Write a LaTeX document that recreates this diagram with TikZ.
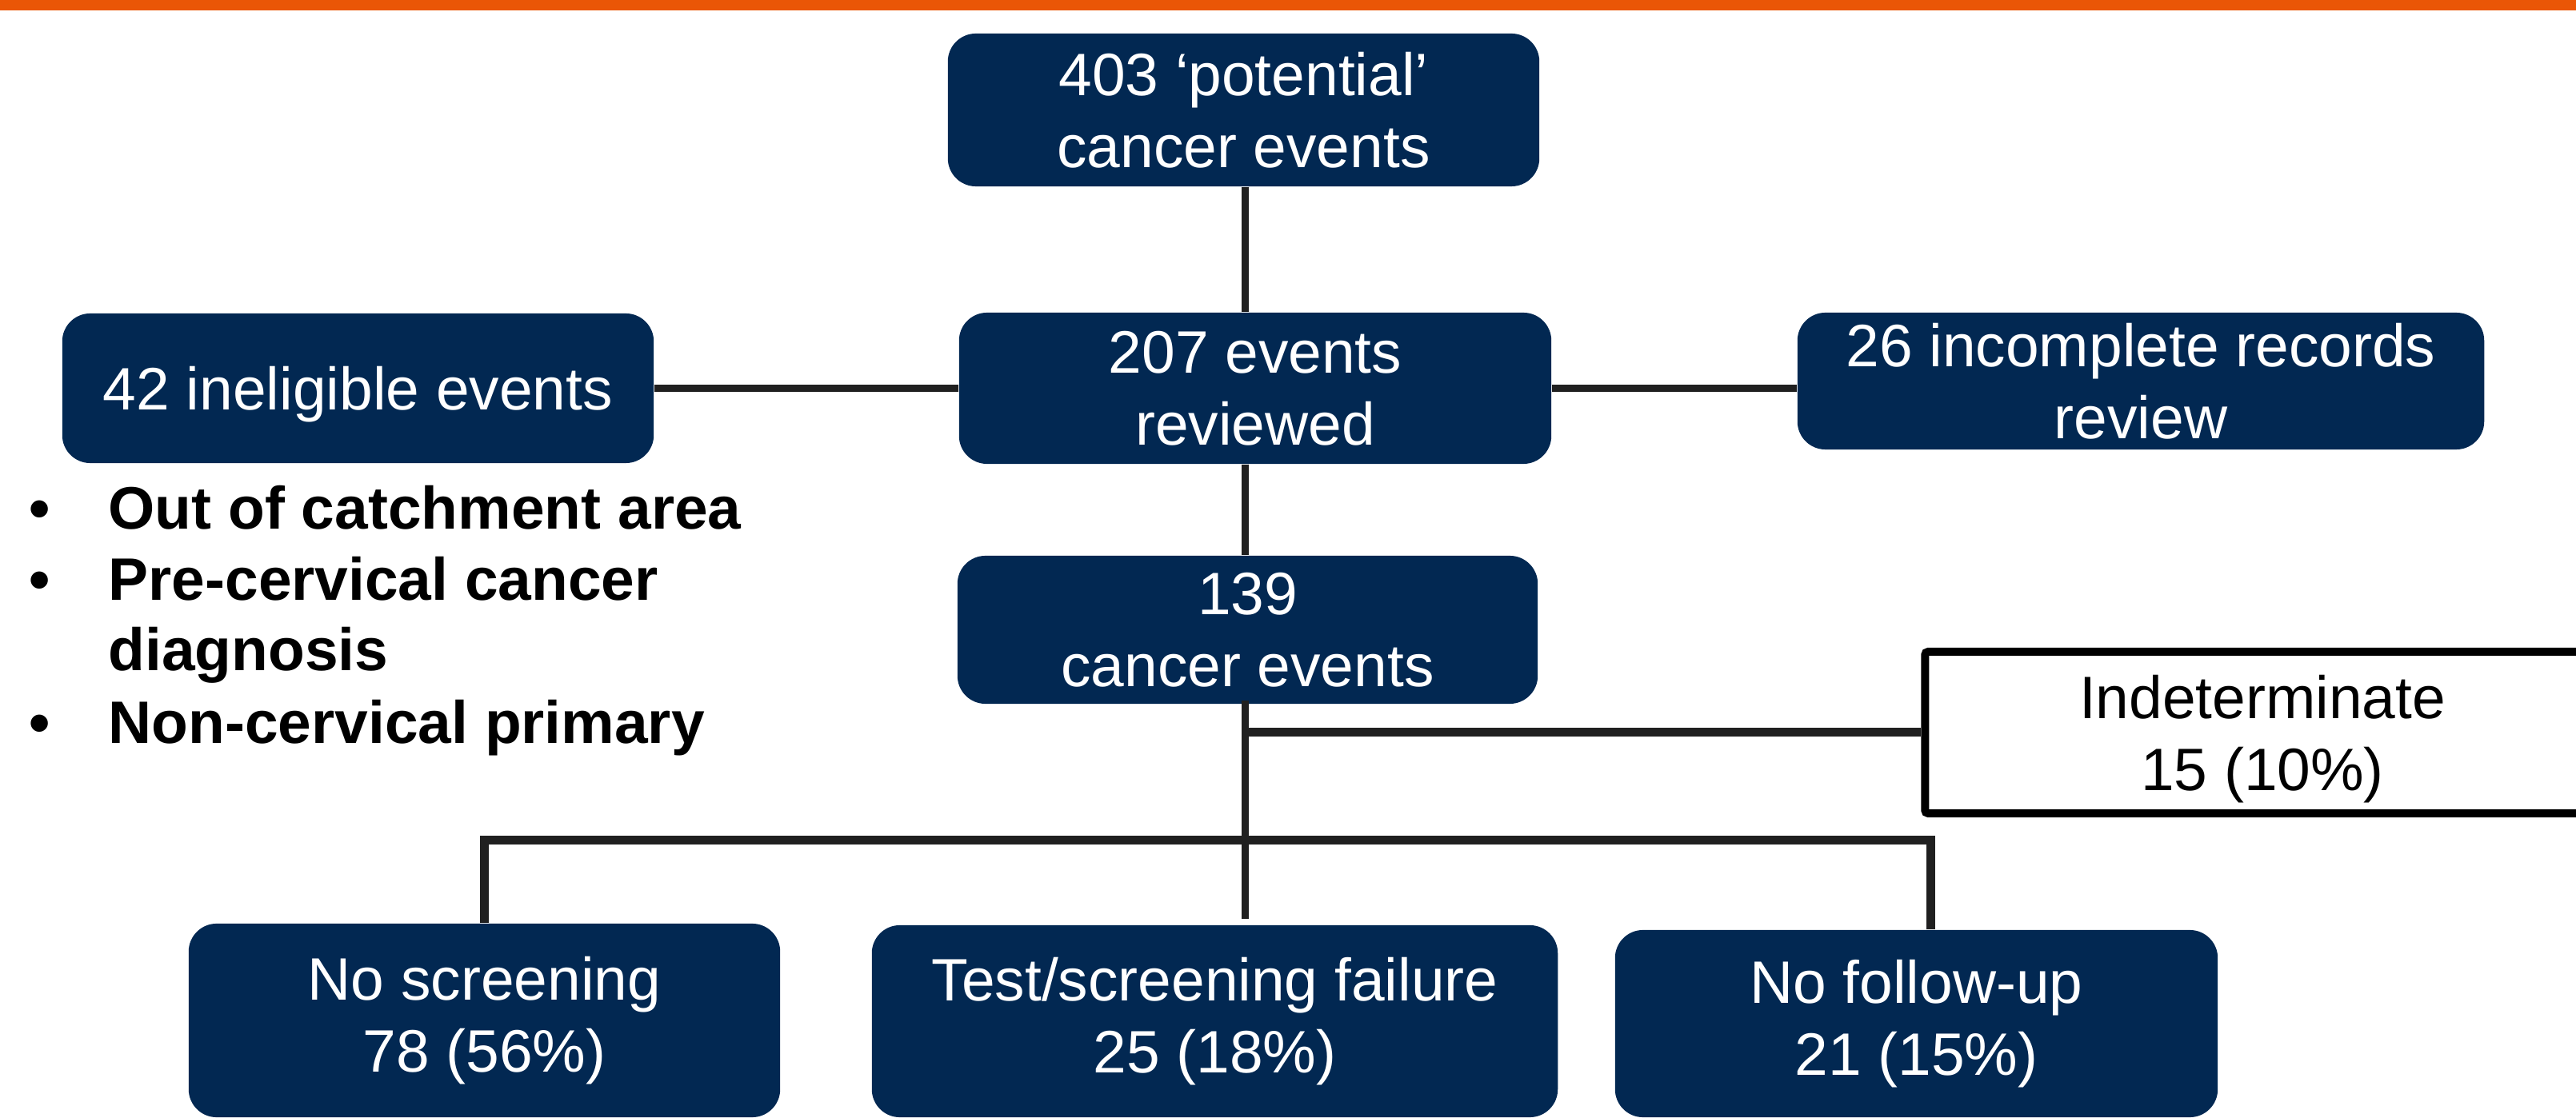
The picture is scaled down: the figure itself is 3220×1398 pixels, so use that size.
\documentclass[tikz,border=0pt]{standalone}
\usepackage{fontspec}
\setmainfont{Liberation Sans}
\definecolor{navy}{RGB}{2,40,82}
\definecolor{orangebar}{RGB}{234,86,6}
\definecolor{connc}{RGB}{32,32,32}
\begin{document}
\begin{tikzpicture}[x=0.01cm,y=-0.01cm,
  box/.style={fill=navy, rounded corners=0.35cm, text=white, align=center, inner sep=0pt,
    font=\fontsize{21.3pt}{25.6pt}\selectfont},
  wbox/.style={fill=white, draw=black, line width=0.1cm, rounded corners=0.04cm, inner sep=0pt},
  wtext/.style={text=black, align=center, inner sep=0pt, font=\fontsize{21.3pt}{25.6pt}\selectfont},
  connector/.style={draw=connc, line width=0.09cm},
  branch/.style={draw=connc, line width=0.11cm},
  btext/.style={anchor=base west, inner sep=0pt, font=\fontsize{21.3pt}{25.6pt}\selectfont\bfseries}]
\clip (0,0) rectangle (3220,1398);
\useasboundingbox (0,0) rectangle (3220,1398);
\fill[orangebar] (0,0) rectangle (3220,13);

\node[box, minimum width=7.39cm, minimum height=1.91cm] (top) at (1554.5,137.5) {403 ‘potential’\\cancer events};
\node[box, minimum width=7.40cm, minimum height=1.89cm] (rev) at (1569,485.5) {207 events\\reviewed};
\node[box, minimum width=7.39cm, minimum height=1.87cm, text height=20.1pt, text depth=4.5pt] (inel) at (447.5,485.5) {42 ineligible events};
\node[box, minimum width=8.58cm, minimum height=1.71cm] (inc) at (2676,476.5) {26 incomplete records\\review};
\node[box, minimum width=7.25cm, minimum height=1.85cm] (c139) at (1559.5,787.5) {139\\cancer events};
\node[wbox, minimum width=8.43cm, minimum height=2.02cm] (indet) at (2828,916) {};
\node[wtext] (indettxt) at (2828,924) {Indeterminate\\15 (10\%)};
\node[box, minimum width=7.39cm, minimum height=2.42cm] (noscr) at (605.5,1276) {No screening\\78 (56\%)};
\node[box, minimum width=8.57cm, minimum height=2.40cm] (test) at (1518.5,1277) {Test/screening failure\\25 (18\%)};
\node[box, minimum width=7.53cm, minimum height=2.34cm] (nofu) at (2395.5,1280) {No follow-up\\21 (15\%)};

\node[btext] (d1) at (36,662) {•};
\node[btext] (b1) at (135,662) {Out of catchment area};
\node[btext] (d2) at (36,751) {•};
\node[btext] (b2) at (135,751) {Pre-cervical cancer};
\node[btext] (b3) at (135,839) {diagnosis};
\node[btext] (d4) at (36,930) {•};
\node[btext] (b4) at (135,930) {Non-cervical primary};

\coordinate (br) at (1556,1051);
\coordinate (spine) at (1556,0);
\draw[connector] (top.south -| spine) -- (rev.north -| spine);
\draw[connector] (rev.south -| spine) -- (c139.north -| spine);
\draw[connector] (inel.east) -- (inel.east -| rev.west);
\draw[connector] (rev.east) -- (rev.east -| inc.west);
\draw[connector] ([yshift=0.05cm]c139.south -| spine) -- ([yshift=0.07cm]test.north -| spine);
\draw[branch] (indet.west -| spine) -- (indet.west);
\draw[branch] (noscr.north) -- (noscr.north |- br) -- ([xshift=0.175cm]nofu.north |- br) -- ([xshift=0.175cm]nofu.north);
\end{tikzpicture}
\end{document}
